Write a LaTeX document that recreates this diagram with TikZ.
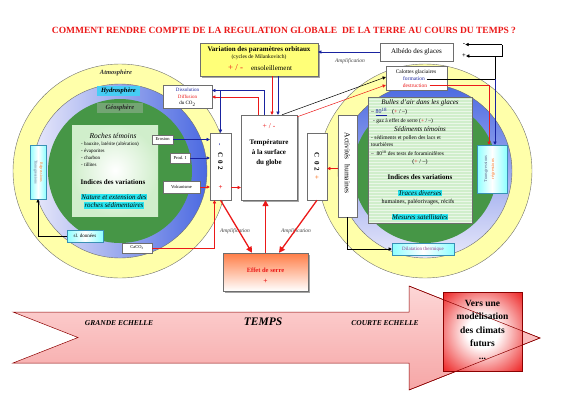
\documentclass[tikz,border=0pt]{standalone}
\usepackage{fontspec}
\setmainfont{Liberation Serif}
\usetikzlibrary{arrows.meta,shadows}
\definecolor{ylw}{RGB}{255,255,170}
\definecolor{boxylw}{RGB}{255,255,120}
\definecolor{cyanhl}{RGB}{40,230,240}
\definecolor{dkgreen}{RGB}{0,90,0}
\definecolor{mdgreen}{RGB}{70,150,70}
\definecolor{ltgreen}{RGB}{208,238,203}
\definecolor{dkblue}{RGB}{25,35,160}
\definecolor{ringblue}{RGB}{75,105,225}
\definecolor{ringlight}{RGB}{232,232,250}
\definecolor{orng}{RGB}{250,120,40}
\definecolor{myred}{RGB}{235,25,25}
\definecolor{pinkA}{RGB}{253,214,214}
\definecolor{pinkB}{RGB}{246,166,166}
\definecolor{redbox}{RGB}{238,45,45}
\definecolor{edge}{RGB}{110,110,110}
\definecolor{trtxt}{RGB}{95,105,140}
\definecolor{purp}{RGB}{150,60,140}
\definecolor{geo}{RGB}{115,165,115}
\definecolor{hydro}{RGB}{70,205,245}
\definecolor{effor}{RGB}{255,125,70}
\pgfdeclareradialshading{greenball}{\pgfpoint{0bp}{0bp}}{color(0bp)=(mdgreen); color(28bp)=(mdgreen); color(50bp)=(dkgreen)}
\pgfdeclareradialshading{redglow}{\pgfpoint{0bp}{0bp}}{color(0bp)=(white); color(10bp)=(white); color(34bp)=(redbox); color(50bp)=(redbox)}
\newcommand{\fz}[1]{\fontsize{#1}{#1}\selectfont}
\begin{document}
\begin{tikzpicture}[x=1pt,y=-1pt,
  bx/.style={draw=edge, line width=0.4pt, fill=white, inner sep=0pt, align=center},
  arr/.style={-{Triangle[length=3.2pt,width=3.2pt]}, line width=0.5pt},
  bigarr/.style={-{Triangle[length=6pt,width=6pt]}, line width=1.3pt, draw=myred},
  shd/.style={drop shadow={shadow xshift=1.5pt,shadow yshift=-1.5pt,opacity=0.35,fill=black}},
  lbl/.style={inner sep=0pt, align=center},
  hl/.style={inner sep=0.7pt, fill=cyanhl, font=\itshape\fz{7}},
  cy/.style={draw=cyan!70!black, line width=0.5pt, left color=cyan!45, right color=cyan!45, middle color=white, inner sep=0pt},
]
\useasboundingbox (0,0) rectangle (565,400);
% title
\node[lbl, text=myred, font=\bfseries\fz{9.5}] (title) at (284,30) {COMMENT RENDRE COMPTE DE LA REGULATION GLOBALE~ DE LA TERRE AU COURS DU TEMPS ?};

% ---------- left sphere
\filldraw[fill=ylw, draw=edge, line width=0.4pt] (120,171) circle (107pt);
\shadedraw[left color=ringlight, right color=ringblue, draw=edge, line width=0.4pt] (120,171) circle (87pt);
\shade[shading=greenball] (120,171) circle (72pt);
\shade[inner color=white, outer color=ltgreen] (72,125) rectangle (158,216);
\node[lbl, font=\bfseries\itshape\fz{6.5}, text=black!80] (atm) at (116,73) {Atmosphère};
\node[lbl, fill=hydro, minimum width=43pt, minimum height=10pt, font=\bfseries\itshape\fz{6.5}] (hyd) at (118.5,91) {Hydrosphère};
\node[lbl, fill=geo, minimum width=46pt, minimum height=10pt, font=\bfseries\itshape\fz{6.5}, text=black!85] (geo) at (120,108) {Géosphère};
\node[lbl, font=\itshape\fz{7.5}] (rt) at (113,136) {Roches témoins};
\node[lbl, anchor=west, font=\fz{5}] (l1) at (81,144) {- bauxite, latérite (altération)};
\node[lbl, anchor=west, font=\fz{5}] (l2) at (81,151) {- évaporites};
\node[lbl, anchor=west, font=\fz{5}] (l3) at (81,158) {- charbon};
\node[lbl, anchor=west, font=\fz{5}] (l4) at (81,165) {- tillites};
\node[lbl, font=\bfseries\fz{7}] (ivL) at (113,182) {Indices des variations};
\node[hl] (nat1) at (114,197) {Nature et extension des};
\node[hl] (nat2) at (114,205.5) {roches sédimentaires};
% left vertical box
\node[cy, minimum width=16pt, minimum height=54pt] (transL) at (38,172) {};
\node[lbl, rotate=-90, font=\fz{4}, text=trtxt] (trL1) at (35.5,172) {Transgressions};
\node[lbl, rotate=-90, font=\fz{4}, text=orng] (trL2) at (41,172) {Régressions};
\node[cy, minimum width=36pt, minimum height=12pt, font=\fz{5}] (don) at (85,236) {sl. données};
\node[bx, minimum width=30pt, minimum height=10pt, font=\fz{4.5}] (caco) at (137,248) {CaCO\textsubscript{3}};

% ---------- right sphere
\filldraw[fill=ylw, draw=edge, line width=0.4pt] (425,171) circle (107pt);
\shadedraw[top color=ringblue, bottom color=ringlight, draw=edge, line width=0.4pt] (425,171) circle (87pt);
\shade[shading=greenball] (425,171) circle (72pt);
\fill[ltgreen] (368,97) rectangle (472,223);
\foreach \yy in {99,102,...,222} \draw[white!55!ltgreen, line width=0.6pt] (368,\yy) -- (472,\yy);
\draw[edge, line width=0.4pt] (368,97) rectangle (472,223);
\node[lbl, font=\itshape\fz{7}] (bul) at (420,103) {Bulles d'air dans les glaces};
\node[lbl, anchor=west, font=\fz{6}] (r1) at (371,112) {– {\color{dkblue}\underline{80\textsuperscript{18}}}\hspace{5pt}({\color{myred}+} / –)};
\node[lbl, anchor=west, font=\fz{5.5}] (r2) at (373,121) {- gaz à effet de serre ({\color{myred}+} / –)};
\node[lbl, font=\itshape\fz{7}] (sed) at (420,129.5) {Sédiments témoins};
\node[lbl, anchor=west, font=\fz{5.5}] (r4) at (371,138) {- sédiments et pollen des lacs et};
\node[lbl, anchor=west, font=\fz{5.5}] (r5) at (371,145) {tourbières};
\node[lbl, anchor=west, font=\fz{5.5}] (r6) at (371,153) {– \ 80\textsuperscript{18} des tests de foraminifères};
\node[lbl, font=\fz{6}] (r7) at (420,162) {({\color{myred}+} / –)};
\node[lbl, font=\bfseries\fz{7}] (ivR) at (420,177) {Indices des variations};
\node[hl] (trc) at (420,193) {Traces diverses};
\node[lbl, font=\fz{6}] (hum) at (418,202) {humaines, paléorivages, récifs};
\node[hl] (mes) at (420,217) {Mesures satellitales};
% right vertical box
\node[cy, minimum width=30pt, minimum height=48pt] (transR) at (492,169) {};
\node[lbl, rotate=90, font=\fz{4.5}, text=trtxt] (trR1) at (486,169) {Transgressions};
\node[lbl, rotate=90, font=\fz{4.5}, text=orng] (trR2) at (493,169) {régressions};
\node[cy, minimum width=62pt, minimum height=12pt, font=\fz{5}, text=purp] (dil) at (423,249) {Dilatation thermique};
% calottes & albedo
\node[bx, minimum width=61pt, minimum height=24pt] (cal) at (416.5,78) {};
\node[lbl, font=\fz{5.5}] (calt) at (416,72) {Calottes glaciaires};
\node[lbl, font=\fz{5.5}, text=dkblue] (form) at (414,79) {formation};
\node[lbl, font=\fz{5.5}, text=myred] (dest) at (415,86) {destruction};
\node[bx, minimum width=73pt, minimum height=18pt, font=\fz{7}] (alb) at (416.5,52) {Albédo des glaces};
\node[lbl, font=\bfseries\fz{7}] (mn) at (464,44.5) {-};
\node[lbl, font=\bfseries\fz{6.5}] (pl) at (464,56) {+};

% ---------- centre
\node[bx, fill=boxylw, minimum width=118pt, minimum height=33pt, shd] (yb) at (259,59.5) {};
\node[lbl, font=\bfseries\fz{7}] (ybt1) at (259,50) {Variation des paramètres orbitaux};
\node[lbl, font=\fz{5.5}] (ybt2) at (259,57.5) {(cycles de Milankovitch)};
\node[lbl, font=\fz{7}] (ybt3) at (260,68) {{\color{myred}\fz{9}+ / -}\hspace{8pt}ensoleillement};

\node[bx, font=\fz{5}, minimum width=49pt, minimum height=23pt] (diss) at (187.5,96.5) {};
\node[lbl, font=\fz{5}, text=dkblue] (dis1) at (187.5,90) {Dissolution};
\node[lbl, font=\fz{5}, text=myred] (dis2) at (187.5,97) {Diffusion};
\node[lbl, font=\fz{5}] (dis3) at (187.5,104) {du CO\textsubscript{2}};

\node[bx, minimum width=21pt, minimum height=9pt, font=\fz{4.5}] (ero) at (162.5,139.5) {Erosion};
\node[bx, minimum width=20pt, minimum height=10pt, font=\fz{4.5}] (prod) at (180,158) {Prod. I};
\node[bx, minimum width=37pt, minimum height=12pt, font=\fz{4.5}] (volc) at (181.5,187) {Volcanisme};

\node[bx, minimum width=21pt, minimum height=67pt] (co2L) at (220.5,166.5) {};
\node[lbl, rotate=-90, font=\bfseries\fz{7}] (co2Lt) at (220.5,157) {{\color{dkblue}-}\hspace{6pt}C\hspace{3pt}0\hspace{3pt}2};
\node[lbl, font=\bfseries\fz{7}, text=myred] (co2Lp) at (220.5,188) {+};

\node[bx, minimum width=56pt, minimum height=85pt, shd] (temp) at (269,157.5) {};
\node[lbl, font=\fz{7.5}, text=myred] (tpm) at (269,126) {+ / -};
\node[lbl, font=\bfseries\fontsize{7}{9.8}\selectfont] (tpt) at (269,153) {Température\\à la surface\\du globe};

\node[bx, minimum width=20pt, minimum height=67pt] (co2R) at (317,166.5) {};
\node[lbl, rotate=-90, font=\bfseries\fz{7}] (co2Rt) at (317,166) {C\hspace{3pt}0\hspace{3pt}2\hspace{4pt}{\color{orng}+}};

\node[bx, minimum width=19pt, minimum height=102pt] (act) at (347.5,166) {};
\node[lbl, rotate=-90, font=\fz{7.5}] (actt) at (347.5,163) {Activités\hspace{3pt} humaines};

\node[bx, minimum width=85pt, minimum height=38pt, top color=effor, bottom color=white, draw=edge, shd] (eff) at (265.5,272) {};
\node[lbl, font=\bfseries\fz{6.5}, text=myred] (efft) at (265.5,270) {Effet de serre};
\node[lbl, font=\bfseries\fz{7.5}, text=myred] (effp) at (265.5,281) {+};

\node[lbl, font=\itshape\fz{5.5}, text=black!75] (am1) at (235,231) {Amplification};
\node[lbl, font=\itshape\fz{5.5}, text=black!75] (am2) at (296,231) {Amplification};
\node[lbl, font=\itshape\fz{5.5}, text=black!75] (am3) at (350,61) {Amplification};

% ---------- connectors
\draw[arr, myred] ([xshift=13pt]yb.south) -- ([xshift=3pt]temp.north);
\draw[arr, dkblue] ([xshift=19pt]yb.south) -- ([xshift=9pt]temp.north);
\draw[arr, dkblue] ([xshift=-5pt]temp.north) |- ([yshift=6pt]diss.east);
\draw[arr, myred] ([xshift=-11pt]temp.north) |- ([yshift=-0.5pt]diss.east);
\path ([yshift=6pt]diss.east) coordinate (dj0);
\draw[arr, dkblue] (co2L.north |- dj0) -- (co2L.north);
\draw[arr, dkblue] (ero.east) -- (ero.east -| co2L.west);
\draw[arr, dkblue] (prod.east) -- (prod.east -| co2L.west);
\draw[arr, myred] (volc.east) -- (volc.east -| co2L.west);
\draw[arr, myred] (caco.east) -| ([xshift=-6pt]co2L.south);
\path ([yshift=-21pt]co2L.east) coordinate (c2a);
\draw[arr, myred] (c2a) -- (c2a -| temp.west);
\draw[bigarr] (eff.north) -- (eff.north |- temp.south);
\draw[bigarr] (co2L.south) -- ([xshift=-13.5pt]eff.north);
\draw[bigarr] (co2R.south) -- ([xshift=13.5pt]eff.north);
\path ([yshift=-2.5pt]act.west) coordinate (a1);
\draw[arr, myred] (a1) -- (a1 -| co2R.east);
\draw[arr] (act.south) |- (dil.west);
\draw[arr, dkblue] (alb.west) -- (alb.west -| yb.east);
\draw[arr] ([xshift=13pt]temp.north) -- ([yshift=1pt]cal.west);
\draw[arr, myred] ([yshift=-2pt]temp.north east) -- ([yshift=-7pt]cal.west);
\path ([xshift=10pt,yshift=-1pt]cal.center) coordinate (f0);
\coordinate (kq) at (495,56);
\coordinate (kp) at (502,44.5);
\draw[line width=0.5pt] (f0) -- (f0 -| kq);
\draw[arr, dkblue] (f0 -| kq) -- (kq |- transR.north);
\draw[line width=0.5pt] (f0 -| kq) -- (kq) -- (kq -| kp) -- (kp);
\draw[arr] (kq) -- (kq -| pl.east);
\draw[arr] (kp) -- (kp -| mn.east);
\path ([xshift=13pt,yshift=-7pt]cal.center) coordinate (d0);
\draw[arr, myred] (d0) -| ([xshift=-3pt]transR.north);
\draw[arr] (don.west) -| (transL.south);

% ---------- time arrow
\shadedraw[draw=red!55!black, line width=0.5pt, top color=pinkA, bottom color=pinkB]
  (13,312) -- (409,312) -- (409,286) -- (540,338) -- (409,390) -- (409,363) -- (13,363) -- (78,337.5) -- cycle;
\node[draw=red!55!black, line width=0.5pt, shade, shading=redglow, minimum width=79pt, minimum height=79pt, inner sep=0pt] (vers) at (482.5,331.5) {};
\draw[red!55!black, line width=0.5pt] (409,286) -- (540,338) -- (409,390);
\node[lbl, font=\bfseries\fontsize{9.5}{13.4}\selectfont] (verst) at (482.5,330) {Vers une\\modélisation\\des climats\\futurs\\...};
\node[lbl, font=\bfseries\itshape\fz{7.5}] (gr) at (119,323) {GRANDE ECHELLE};
\node[lbl, font=\bfseries\itshape\fz{11.5}] (tps) at (263,322) {TEMPS};
\node[lbl, font=\bfseries\itshape\fz{7.5}] (ct) at (385,323) {COURTE ECHELLE};
\end{tikzpicture}
\end{document}
